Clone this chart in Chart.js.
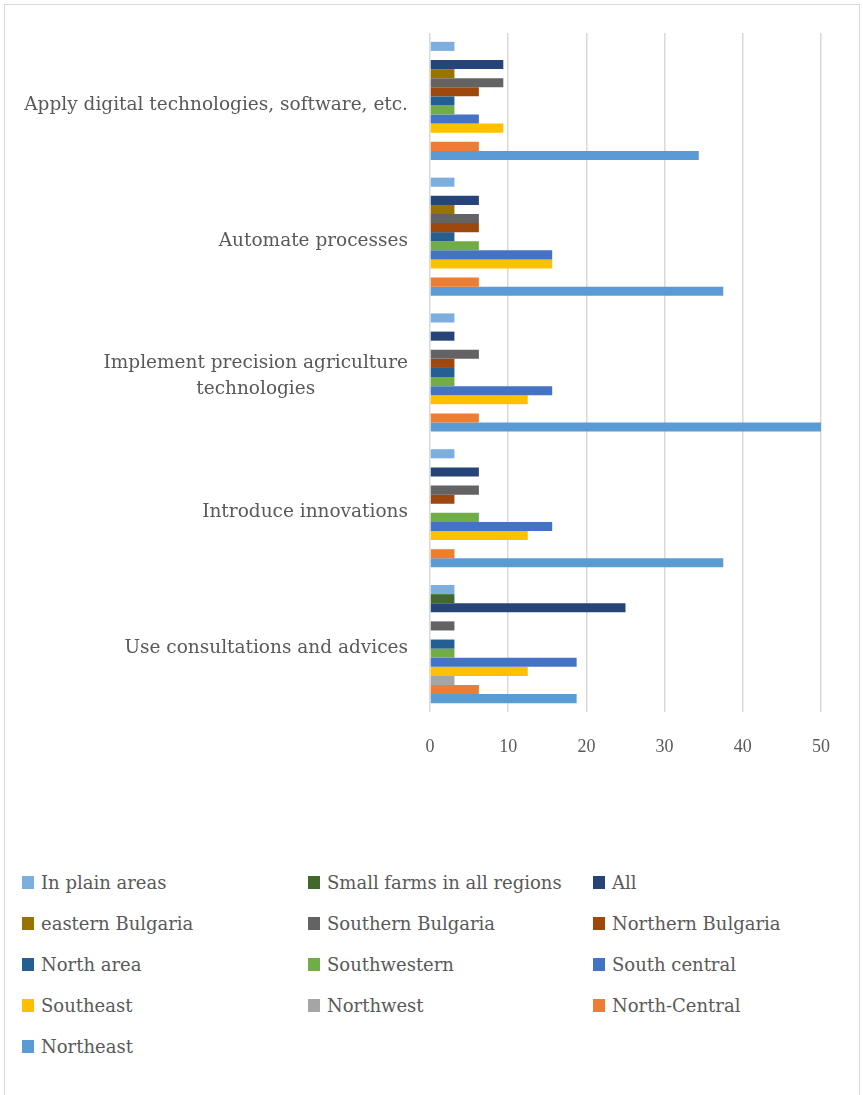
<!DOCTYPE html>
<html>
<head>
<meta charset="utf-8">
<title>Digitalisation intentions by region</title>
<script src="https://cdn.jsdelivr.net/npm/chart.js@4.4.1/dist/chart.umd.min.js"></script>
<style>
    html, body {
        margin: 0;
        padding: 0;
        background: #ffffff;
    }
    .chart-frame {
        position: absolute;
        left: 4px;
        top: 4px;
        width: 856px;
        height: 1110px;
        border: 1px solid #d9d9d9;
        box-sizing: border-box;
    }
    .chart-box {
        position: absolute;
        left: 0;
        top: 0;
        width: 856px;
        height: 790px;
    }
    .legend {
        position: absolute;
        left: 17px;
        top: 857px;
        display: grid;
        grid-template-columns: 286px 285px 260px;
        grid-auto-rows: 41px;
        font-family: "DejaVu Serif", serif;
        font-size: 18px;
        color: #595959;
    }
    .legend-item {
        display: flex;
        align-items: center;
        height: 41px;
        white-space: nowrap;
    }
    .legend-swatch {
        width: 12px;
        height: 13px;
        margin-right: 7px;
        flex: none;
    }
</style>
</head>
<body>
<div class="chart-frame">
    <div class="chart-box"><canvas id="regionChart"></canvas></div>
    <div class="legend" id="regionLegend"></div>
</div>

<script>
// Categories, top to bottom
const categories = [
    'Apply digital technologies, software, etc.',
    'Automate processes',
    'Implement precision agriculture\ntechnologies',
    'Introduce innovations',
    'Use consultations and advices'
];

// Share of respondents (%), one array per group, same order as categories
const inPlainAreas     = [3.125, 3.125, 3.125, 3.125, 3.125];
const smallFarms       = [0, 0, 0, 0, 3.125];
const allRegions       = [9.375, 6.25, 3.125, 6.25, 25];
const easternBulgaria  = [3.125, 3.125, 0, 0, 0];
const southernBulgaria = [9.375, 6.25, 6.25, 6.25, 3.125];
const northernBulgaria = [6.25, 6.25, 3.125, 3.125, 0];
const northArea        = [3.125, 3.125, 3.125, 0, 3.125];
const southwestern     = [3.125, 6.25, 3.125, 6.25, 3.125];
const southCentral     = [6.25, 15.625, 15.625, 15.625, 18.75];
const southeast        = [9.375, 15.625, 12.5, 12.5, 12.5];
const northwest        = [0, 0, 0, 0, 3.125];
const northCentral     = [6.25, 6.25, 6.25, 3.125, 6.25];
const northeast        = [34.375, 37.5, 50, 37.5, 18.75];

const xTicks = [0, 10, 20, 30, 40, 50];

const seriesNames = [
    'In plain areas', 'Small farms in all regions', 'All',
    'eastern Bulgaria', 'Southern Bulgaria', 'Northern Bulgaria',
    'North area', 'Southwestern', 'South central',
    'Southeast', 'Northwest', 'North-Central',
    'Northeast'
];
const seriesValues = [
    inPlainAreas, smallFarms, allRegions,
    easternBulgaria, southernBulgaria, northernBulgaria,
    northArea, southwestern, southCentral,
    southeast, northwest, northCentral,
    northeast
];
const seriesColors = [
    '#7cafdd', '#43682b', '#264478',
    '#997300', '#636363', '#9e480e',
    '#255e91', '#70ad47', '#4472c4',
    '#ffc000', '#a5a5a5', '#ed7d31',
    '#5b9bd5'
];

const TEXT_COLOR = '#595959';
const LABEL_FONT = '18.5px "DejaVu Serif", serif';

// Category labels: block right-aligned against the plot, lines centred within the block
const categoryLabels = {
    id: 'categoryLabels',
    afterDraw(chart) {
        const ctx = chart.ctx;
        const yScale = chart.scales.y;
        const right = chart.chartArea.left - 22;
        const lineHeight = 26;

        ctx.save();
        ctx.font = LABEL_FONT;
        ctx.fillStyle = TEXT_COLOR;
        ctx.textAlign = 'center';
        ctx.textBaseline = 'middle';

        categories.forEach((label, i) => {
            const lines = label.split('\n');
            const widest = Math.max(...lines.map(l => ctx.measureText(l).width));
            const cx = right - widest / 2;
            const cy = yScale.getPixelForTick(i) + 4;
            const top = cy - (lines.length - 1) * lineHeight / 2;
            lines.forEach((line, j) => ctx.fillText(line, cx, top + j * lineHeight));
        });
        ctx.restore();
    }
};

function buildLegend(chart) {
    const legend = document.getElementById('regionLegend');
    legend.innerHTML = chart.data.datasets.map(ds => `
        <div class="legend-item">
            <span class="legend-swatch" style="background:${ds.backgroundColor}"></span>
            <span>${ds.label}</span>
        </div>
    `).join('');
}

const ctx = document.getElementById('regionChart').getContext('2d');
const regionChart = new Chart(ctx, {
    type: 'bar',
    data: {
        labels: categories,
        datasets: seriesNames.map((name, i) => ({
            label: name,
            data: seriesValues[i],
            backgroundColor: seriesColors[i],
            borderWidth: 0,
            categoryPercentage: 0.87,
            barPercentage: 1.0
        }))
    },
    options: {
        indexAxis: 'y',
        responsive: true,
        maintainAspectRatio: false,
        animation: false,
        layout: {
            padding: { top: 28, right: 40, bottom: 33, left: 0 }
        },
        plugins: {
            legend: { display: false },
            tooltip: { enabled: false }
        },
        scales: {
            x: {
                min: 0,
                max: 50,
                afterBuildTicks: (scale) => {
                    scale.ticks = xTicks.map(v => ({ value: v }));
                },
                afterFit: (scale) => { scale.height = 50; },
                border: { display: false },
                grid: {
                    color: '#d9d9d9',
                    lineWidth: 1.5,
                    drawTicks: false
                },
                ticks: {
                    color: TEXT_COLOR,
                    padding: 24,
                    font: { family: '"Liberation Serif", serif', size: 18 }
                }
            },
            y: {
                afterFit: (scale) => { scale.width = 425; },
                border: { display: false },
                grid: { display: false },
                ticks: { display: false }
            }
        }
    },
    plugins: [categoryLabels]
});

buildLegend(regionChart);
</script>
</body>
</html>
